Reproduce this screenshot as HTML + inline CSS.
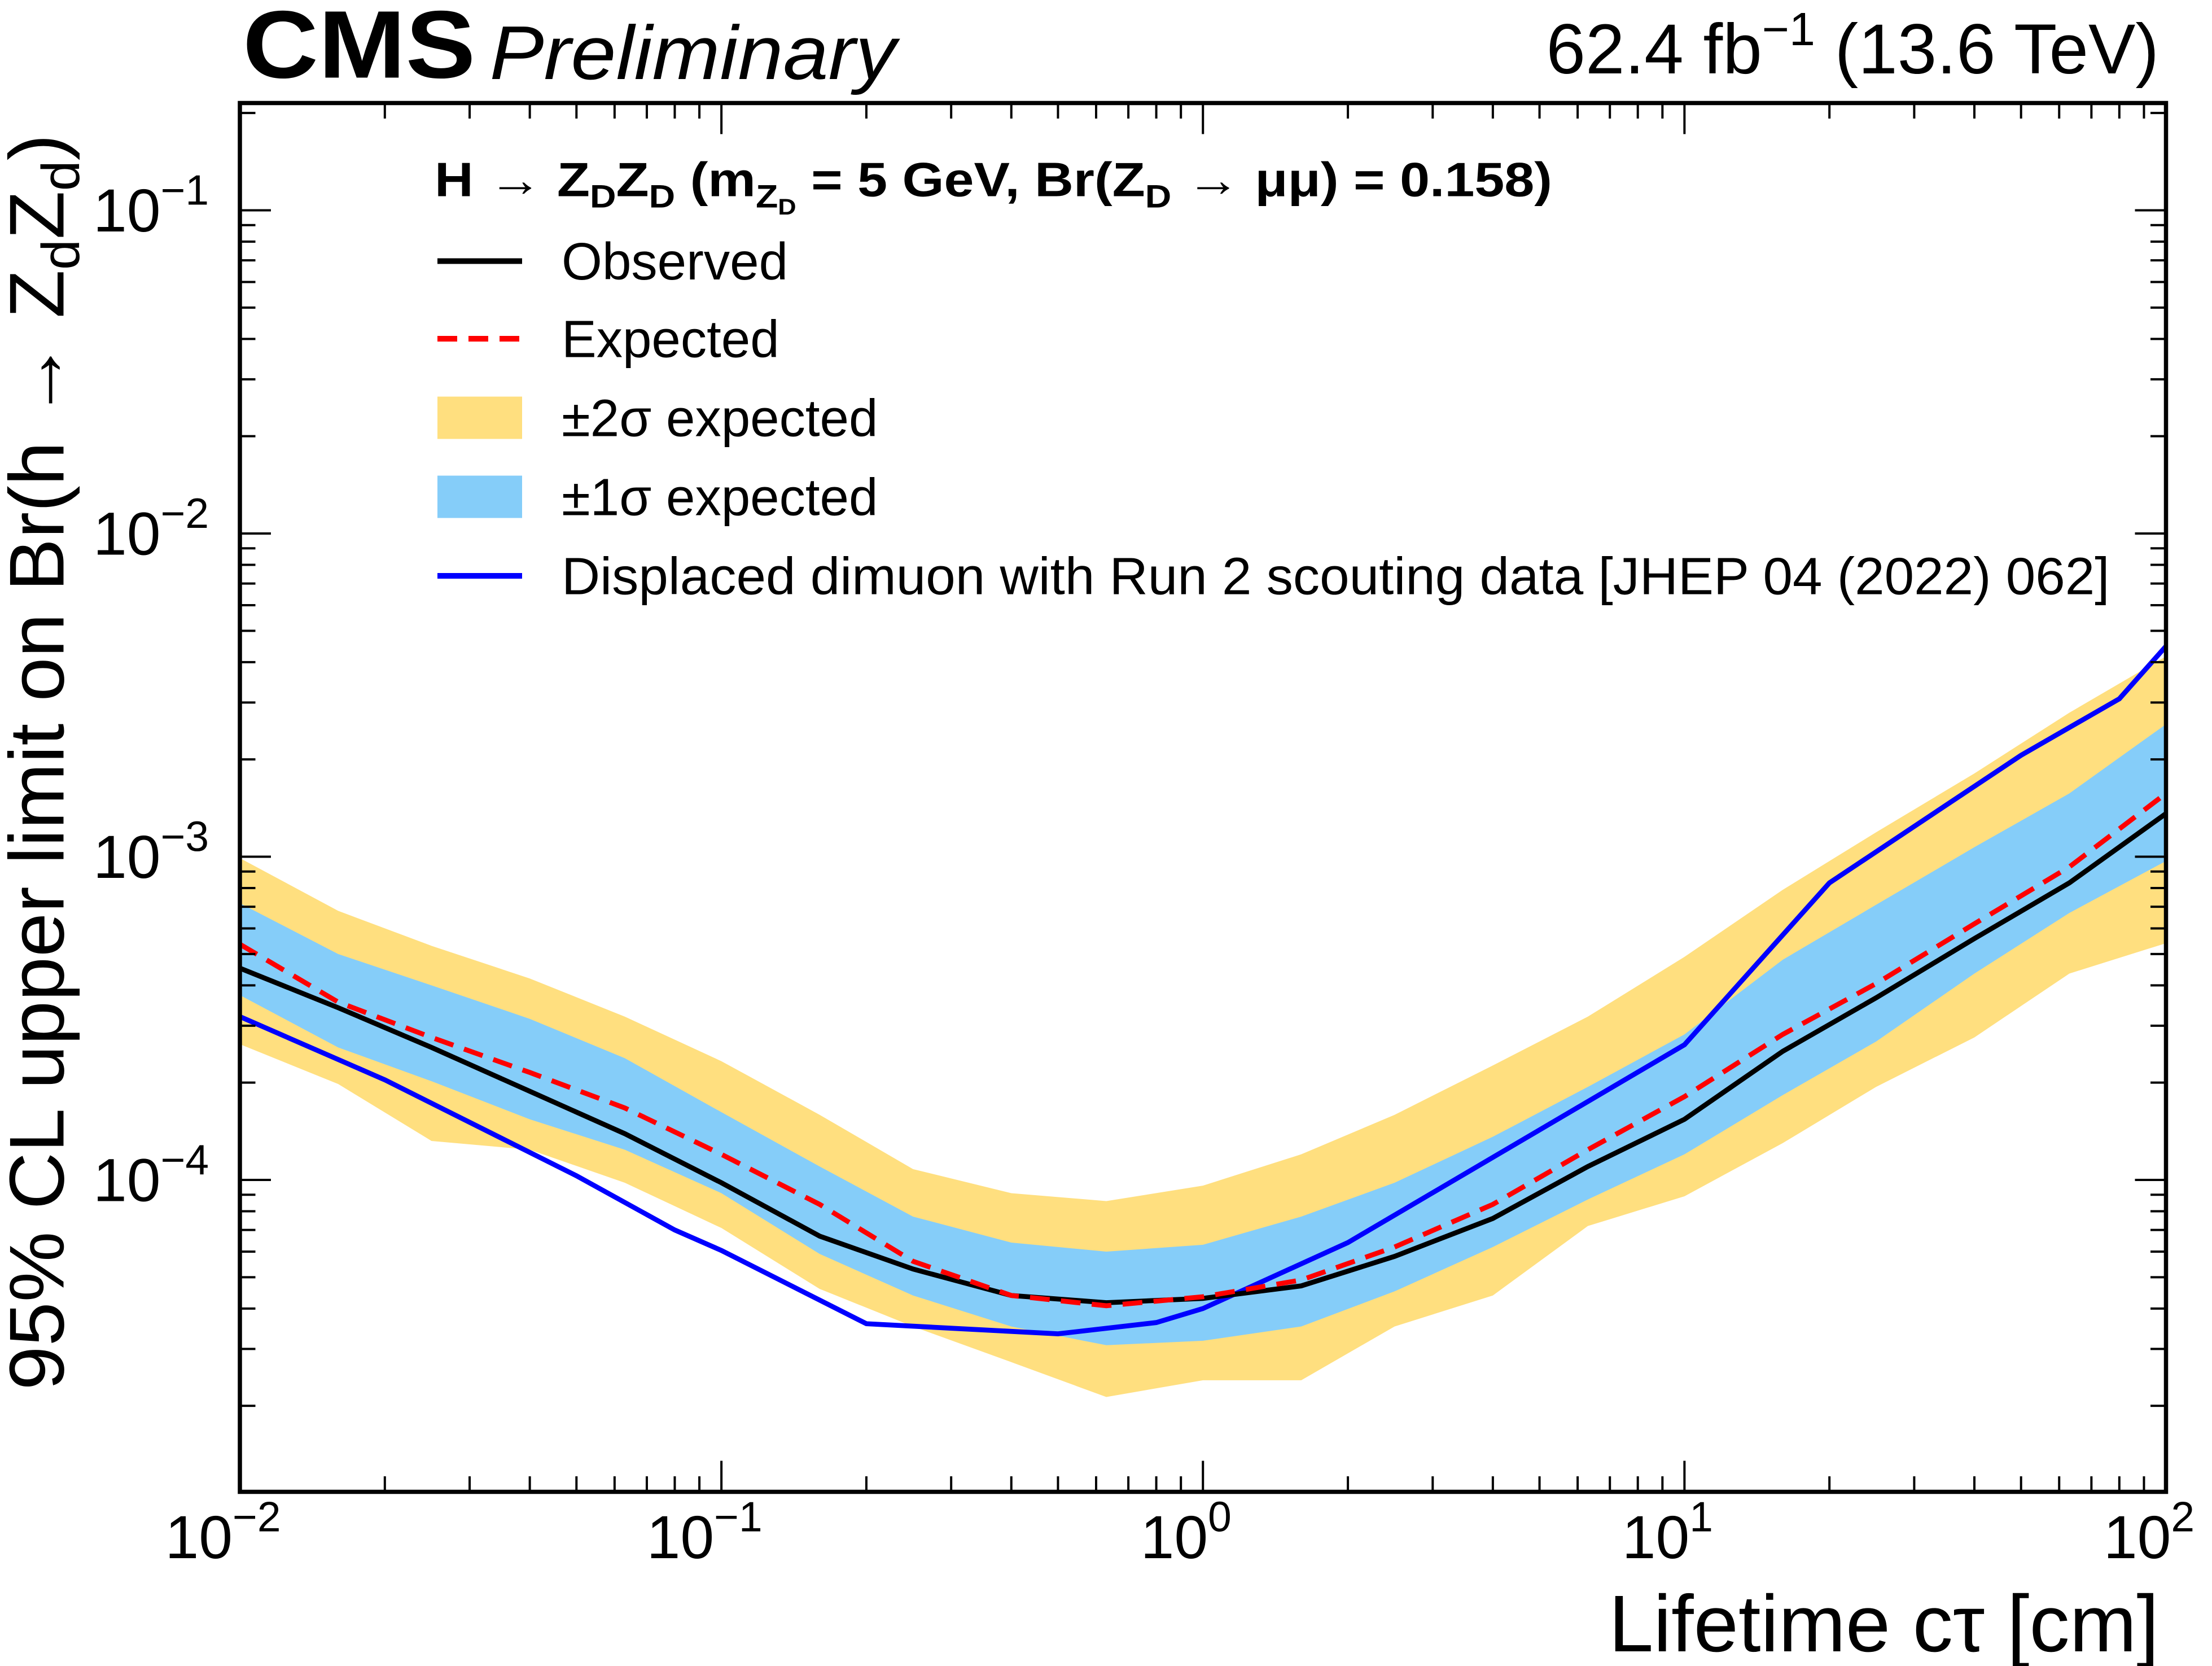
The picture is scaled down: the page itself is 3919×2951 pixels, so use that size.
<!DOCTYPE html>
<html><head><meta charset="utf-8">
<style>
html,body{margin:0;padding:0;background:#fff;}
svg{display:block;font-family:"Liberation Sans",Arial,sans-serif;}
</style></head>
<body>
<svg id="chart" width="3919" height="2951" viewBox="0 0 1567.6 1180.4" xmlns="http://www.w3.org/2000/svg">
<rect width="1567.6" height="1180.4" fill="#fff"/>
<g id="bands"></g>
<g id="lines"></g>
<g id="axes"></g>
<text x="172" y="55" font-size="68" font-weight="bold" textLength="165" lengthAdjust="spacingAndGlyphs">CMS</text>
<text x="347" y="56" font-size="54" font-style="italic" textLength="288" lengthAdjust="spacingAndGlyphs">Preliminary</text>
<text x="1530" y="52" font-size="50" text-anchor="end">62.4 fb<tspan dy="-20" font-size="33">−1</tspan><tspan dy="20"> (13.6 TeV)</tspan></text>
<text x="1530" y="1170" font-size="57" text-anchor="end">Lifetime cτ [cm]</text>
<text transform="translate(45,985) rotate(-90)" font-size="55" textLength="890" lengthAdjust="spacingAndGlyphs">95% CL upper limit on Br(h → Z<tspan dy="11" font-size="38">d</tspan><tspan dy="-11">Z</tspan><tspan dy="11" font-size="38">d</tspan><tspan dy="-11">)</tspan></text>
<g>
<text x="308" y="139" font-size="34" font-weight="bold" textLength="792" lengthAdjust="spacingAndGlyphs">H → Z<tspan dy="8" font-size="23">D</tspan><tspan dy="-8">Z</tspan><tspan dy="8" font-size="23">D</tspan><tspan dy="-8"> (m</tspan><tspan dy="8" font-size="23">Z</tspan><tspan dy="5" font-size="16">D</tspan><tspan dy="-13"> =  5 GeV, Br(Z</tspan><tspan dy="8" font-size="23">D</tspan><tspan dy="-8"> → μμ) = 0.158)</tspan></text>
<line x1="310" y1="185" x2="370" y2="185" stroke="#000" stroke-width="4"/>
<text x="398" y="198" font-size="37">Observed</text>
<line x1="310" y1="240" x2="370" y2="240" stroke="#f00" stroke-width="4" stroke-dasharray="14,8"/>
<text x="398" y="253" font-size="37">Expected</text>
<rect x="310" y="281" width="60" height="30" fill="#ffdf7f"/>
<text x="398" y="309" font-size="37">±2σ expected</text>
<rect x="310" y="337" width="60" height="30" fill="#85cdf9"/>
<text x="398" y="365" font-size="37">±1σ expected</text>
<line x1="310" y1="408" x2="370" y2="408" stroke="#0000ff" stroke-width="4"/>
<text x="398" y="421" font-size="37" textLength="1097" lengthAdjust="spacingAndGlyphs">Displaced dimuon with Run 2 scouting data [JHEP 04 (2022) 062]</text>
</g>
</svg>
<script>
const ctau = [0.01,0.016,0.025,0.04,0.063,0.1,0.16,0.25,0.4,0.63,1,1.6,2.5,4,6.3,10,16,25,40,63,100];
const observed = [4.52e-4,3.41e-4,2.57e-4,1.88e-4,1.39e-4,9.8e-5,6.7e-5,5.3e-5,4.39e-5,4.17e-5,4.3e-5,4.7e-5,5.8e-5,7.6e-5,1.1e-4,1.54e-4,2.5e-4,3.66e-4,5.58e-4,8.3e-4,1.36e-3];
const expected = [5.36e-4,3.55e-4,2.76e-4,2.15e-4,1.67e-4,1.2e-4,8.4e-5,5.6e-5,4.39e-5,4.08e-5,4.35e-5,4.9e-5,6.2e-5,8.4e-5,1.24e-4,1.81e-4,2.82e-4,4.05e-4,6.2e-4,9.3e-4,1.57e-3];
const up1 = [7.18e-4,5.0e-4,4.0e-4,3.15e-4,2.38e-4,1.62e-4,1.1e-4,7.7e-5,6.4e-5,6.0e-5,6.3e-5,7.7e-5,9.8e-5,1.36e-4,1.94e-4,2.82e-4,4.8e-4,7.1e-4,1.07e-3,1.57e-3,2.57e-3];
const lo1 = [3.73e-4,2.57e-4,2.02e-4,1.54e-4,1.24e-4,9.1e-5,5.9e-5,4.39e-5,3.52e-5,3.08e-5,3.18e-5,3.52e-5,4.52e-5,6.2e-5,8.7e-5,1.2e-4,1.83e-4,2.68e-4,4.35e-4,6.7e-4,9.7e-4];
const up2 = [9.9e-4,6.8e-4,5.3e-4,4.2e-4,3.2e-4,2.33e-4,1.59e-4,1.08e-4,9.1e-5,8.6e-5,9.6e-5,1.2e-4,1.59e-4,2.26e-4,3.2e-4,4.9e-4,7.9e-4,1.19e-3,1.81e-3,2.79e-3,4.17e-3];
const lo2 = [2.63e-4,1.98e-4,1.32e-4,1.24e-4,9.8e-5,7.1e-5,4.6e-5,3.52e-5,2.73e-5,2.13e-5,2.4e-5,2.4e-5,3.52e-5,4.39e-5,7.2e-5,8.9e-5,1.3e-4,1.94e-4,2.76e-4,4.35e-4,5.4e-4];
const scoutX = [0.01,0.02,0.05,0.08,0.1,0.2,0.5,0.8,1,2,10,20,50,80,100];
const scoutY = [3.2e-4,2.04e-4,1.03e-4,7.0e-5,6.05e-5,3.59e-5,3.34e-5,3.62e-5,4.0e-5,6.4e-5,2.62e-4,8.3e-4,2.06e-3,3.08e-3,4.48e-3];
const xTickExp = [-2,-1,0,1,2];
const yTickExp = [-4,-3,-2,-1];

const L=170,R=1535,T=73,B=1057;
const X = v => L + (Math.log10(v)+2)*(R-L)/4;
const Y = v => 149 + (-1 - Math.log10(v))*229;
const NS="http://www.w3.org/2000/svg";
function mk(tag,parent){const e=document.createElementNS(NS,tag);parent.appendChild(e);return e;}
const bands=document.getElementById('bands'), lines=document.getElementById('lines'), axes=document.getElementById('axes');

function band(up,lo,color){
  let d='M'+ctau.map((c,i)=>X(c)+','+Y(up[i])).join('L');
  for(let i=ctau.length-1;i>=0;i--) d+='L'+X(ctau[i])+','+Y(lo[i]);
  const p=mk('path',bands); p.setAttribute('d',d+'Z'); p.setAttribute('fill',color); return p;
}
const b2=band(up2,lo2,'#ffdf7f');


const b1=band(up1,lo1,'#85cdf9');



function line(xs,ys,color,dash){
  const p=mk('polyline',lines);
  p.setAttribute('points',xs.map((c,i)=>X(c)+','+Y(ys[i])).join(' '));
  p.setAttribute('fill','none');p.setAttribute('stroke',color);p.setAttribute('stroke-width','3.5');
  if(dash)p.setAttribute('stroke-dasharray',dash);
  return p;
}
const ls=line(scoutX,scoutY,'#0000ff');


const lo=line(ctau,observed,'#000');


const le=line(ctau,expected,'#f00','14,8');



const fr=mk('rect',axes);


fr.setAttribute('x',L);fr.setAttribute('y',T);fr.setAttribute('width',R-L);fr.setAttribute('height',B-T);
fr.setAttribute('fill','none');fr.setAttribute('stroke','#000');fr.setAttribute('stroke-width','3');

function tick(x1,y1,x2,y2){const t=mk('line',axes);t.setAttribute('x1',x1);t.setAttribute('y1',y1);t.setAttribute('x2',x2);t.setAttribute('y2',y2);t.setAttribute('stroke','#000');t.setAttribute('stroke-width','1.6');

}
for(let e=-2;e<2;e++){for(let m=1;m<10;m++){const v=m*Math.pow(10,e);const x=X(v);const len=m==1?22:11;tick(x,B,x,B-len);tick(x,T,x,T+len);}}
tick(R,B,R,B-22);
xTickExp.forEach(e=>{const t=mk('text',axes);


t.setAttribute('x',X(Math.pow(10,e))-12);t.setAttribute('y',1104);t.setAttribute('font-size','43');t.setAttribute('text-anchor','middle');
t.innerHTML='10<tspan dy="-19" font-size="30">'+(e<0?'−'+(-e):e)+'</tspan>';});
for(let e=-5;e<0;e++){for(let m=1;m<10;m++){const v=m*Math.pow(10,e);const y=Y(v);if(y<T||y>B)continue;const len=m==1?22:11;tick(L,y,L+len,y);tick(R,y,R-len,y);}}
yTickExp.forEach(e=>{const t=mk('text',axes);


t.setAttribute('x',66);t.setAttribute('y',Y(Math.pow(10,e))+15);t.setAttribute('font-size','43');
t.innerHTML='10<tspan dy="-19" font-size="30">−'+(-e)+'</tspan>';});
</script>
</body></html>
